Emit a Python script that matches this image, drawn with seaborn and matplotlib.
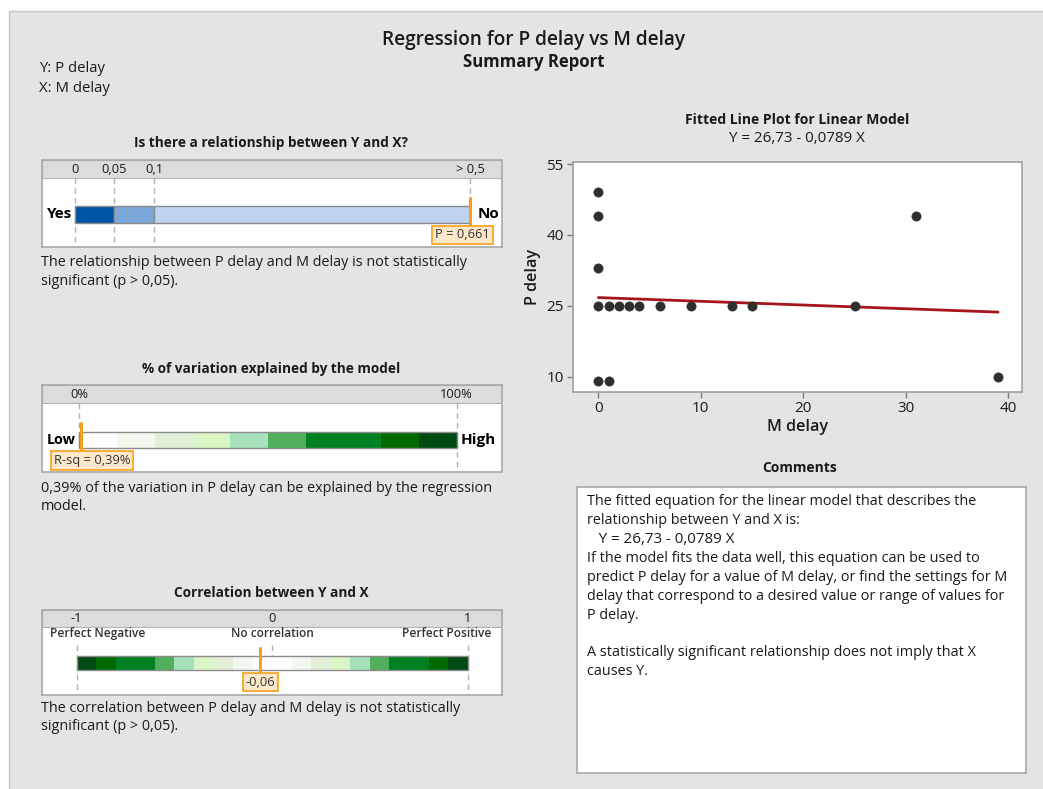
import numpy as np
import pandas as pd
import matplotlib
matplotlib.use("Agg")
import matplotlib.pyplot as plt
import seaborn as sns
from matplotlib.patches import Rectangle

# ---- data -------------------------------------------------------------
m_delay = [0, 0, 0, 0, 0, 1, 1, 2, 3, 4, 6, 9, 13, 15, 25, 31, 39]
p_delay = [49, 44, 33, 25, 9, 25, 9, 25, 25, 25, 25, 25, 25, 25, 25, 44, 10]

intercept = 26.73
slope = -0.0789
p_value = 0.661
r_sq_pct = 0.39
corr_r = -0.06

p_ticks = [0, 0.05, 0.1, 0.5]
p_tick_labels = ["0", "0,05", "0,1", "> 0,5"]
p_band_edges = [0, 0.05, 0.1, 0.5]
p_band_colors = ["#0054a6", "#7ba6d8", "#bed3ee"]

green_edges = [0, 10, 20, 30, 40, 50, 60, 80, 90, 100]
green_colors = ["#ffffff", "#f1f8ee", "#e1efd9", "#d9f5c4", "#a8e2bc",
                "#50ae5c", "#008224", "#006a00", "#004b13"]

equation = "Y = 26,73 - 0,0789 X"
comment_lines = [
    "The fitted equation for the linear model that describes the",
    "relationship between Y and X is:",
    "   " + equation,
    "If the model fits the data well, this equation can be used to",
    "predict P delay for a value of M delay, or find the settings for M",
    "delay that correspond to a desired value or range of values for",
    "P delay.",
    "",
    "A statistically significant relationship does not imply that X",
    "causes Y.",
]

# ---- style ------------------------------------------------------------
sns.set_theme(style="white")
plt.rcParams["font.family"] = ["Open Sans", "DejaVu Sans"]

W, H = 1043, 789
BG = "#e4e4e4"
TXT = "#1a1a1a"
ORANGE = "#f5a01a"
LABEL_FC = "#fde8cc"
FS_BODY = 10.35
FS_TITLE = 9.8
FS_EQ = 10.9

fig = plt.figure(figsize=(W / 100, H / 100), dpi=100)
fig.patch.set_facecolor("white")

bg = fig.add_axes([0, 0, 1, 1])
bg.set_xlim(0, W)
bg.set_ylim(H, 0)
bg.axis("off")
bg.set_zorder(0)
bg.add_patch(Rectangle((9, 11), W, H, facecolor=BG, edgecolor="#c4c4c4", lw=1))


def px_axes(x0, y0, x1, y1, z=2):
    ax = fig.add_axes([x0 / W, 1 - y1 / H, (x1 - x0) / W, (y1 - y0) / H])
    ax.set_zorder(z)
    return ax


# ---- headings -----------------------------------------------------------
bg.text(534, 39.5, "Regression for P delay vs M delay", ha="center", va="center",
        fontsize=13.7, fontweight="semibold", color=TXT)
bg.text(534, 61.5, "Summary Report", ha="center", va="center",
        fontsize=12.1, fontweight="bold", color=TXT)
bg.text(39, 68, "Y: P delay", ha="left", va="center", fontsize=10.7, color=TXT)
bg.text(39, 88, "X: M delay", ha="left", va="center", fontsize=10.7, color=TXT)


def gauge_box(px_box, header_bottom, xlim):
    x0, y0, x1, y1 = px_box
    ax = px_axes(x0, y0, x1, y1)
    ax.set_xlim(*xlim)
    ax.set_ylim(y1, y0)
    ax.set_facecolor("white")
    for s in ax.spines.values():
        s.set_color("#a8a8a8")
        s.set_linewidth(1.2)
    ax.set_xticks([])
    ax.set_yticks([])
    ax.add_patch(Rectangle((xlim[0], y0), xlim[1] - xlim[0], header_bottom - y0,
                           facecolor="#dcdcdc", edgecolor="#b4b4b4", lw=0.8, zorder=1))
    return ax


def value_label(ax, x, y, text, xlim, margin):
    t = ax.text(x, y, text, ha="center", va="center", fontsize=9.3, color="#333333",
                zorder=6,
                bbox=dict(boxstyle="square,pad=0.22", fc=LABEL_FC, ec=ORANGE, lw=1.2))
    fig.canvas.draw()
    r = fig.canvas.get_renderer()
    bb = t.get_bbox_patch().get_window_extent(r)
    inv = ax.transData.inverted()
    lx = inv.transform((bb.x0, 0))[0]
    rx = inv.transform((bb.x1, 0))[0]
    unit = (xlim[1] - xlim[0]) / (ax.get_window_extent(r).width)
    lo = xlim[0] + margin * unit
    hi = xlim[1] - margin * unit
    shift = 0.0
    if rx > hi:
        shift = hi - rx
    elif lx < lo:
        shift = lo - lx
    t.set_x(x + shift)


# ---- panel 1: p-value gauge ------------------------------------------------
bg.text(271, 143, "Is there a relationship between Y and X?", ha="center", va="center",
        fontsize=FS_TITLE, fontweight="bold", color=TXT)
xl1 = (-0.04215, 0.54013)
ax1 = gauge_box((41.7, 159.5, 501.7, 247), 178, xl1)
for t, lab in zip(p_ticks, p_tick_labels):
    ax1.text(t, 169, lab, ha="center", va="center", fontsize=9.3, color=TXT)
    ax1.plot([t, t], [178, 247], color="#b0b0b0", lw=1, ls=(0, (4, 3)), zorder=2)
for a, b, c in zip(p_band_edges[:-1], p_band_edges[1:], p_band_colors):
    ax1.barh(214.7, b - a, left=a, height=17.3, color=c, edgecolor="#8c8c8c",
             lw=1, zorder=3)
p_mark = min(p_value, p_ticks[-1])
ax1.plot([p_mark, p_mark], [198, 230], color=ORANGE, lw=2.2, zorder=5)
ax1.text(-0.004, 214, "Yes", ha="right", va="center", fontsize=11,
         fontweight="bold", color="black")
ax1.text(0.51, 214, "No", ha="left", va="center", fontsize=11,
         fontweight="bold", color="black")
value_label(ax1, p_mark, 235, "P = 0,661", xl1, 9)
bg.text(41, 263, "The relationship between P delay and M delay is not statistically",
        ha="left", va="center", fontsize=FS_BODY, color=TXT)
bg.text(41, 281, "significant (p > 0,05).", ha="left", va="center",
        fontsize=FS_BODY, color=TXT)

# ---- panel 2: R-sq gauge -------------------------------------------------
bg.text(271, 369, "% of variation explained by the model", ha="center", va="center",
        fontsize=FS_TITLE, fontweight="bold", color=TXT)
xl2 = (-9.96, 111.92)
ax2 = gauge_box((41.7, 385, 501.7, 472), 403.3, xl2)
for t, lab in zip([0, 100], ["0%", "100%"]):
    ax2.text(t, 394, lab, ha="center", va="center", fontsize=9.3, color=TXT)
    ax2.plot([t, t], [403.3, 472], color="#b0b0b0", lw=1, ls=(0, (4, 3)), zorder=2)
for a, b, c in zip(green_edges[:-1], green_edges[1:], green_colors):
    ax2.barh(440, b - a, left=a, height=16.6, color=c, lw=0, zorder=3)
ax2.barh(440, 100, left=0, height=16.6, fill=False, edgecolor="#8c8c8c", lw=1, zorder=4)
ax2.plot([r_sq_pct, r_sq_pct], [423.3, 453], color=ORANGE, lw=2.2, zorder=5)
ax2.text(-0.9, 440, "Low", ha="right", va="center", fontsize=10.4,
         fontweight="bold", color="black")
ax2.text(101, 440, "High", ha="left", va="center", fontsize=11,
         fontweight="bold", color="black")
value_label(ax2, r_sq_pct, 460.3, "R-sq = 0,39%", xl2, 9)
bg.text(41, 488, "0,39% of the variation in P delay can be explained by the regression",
        ha="left", va="center", fontsize=FS_BODY, color=TXT)
bg.text(41, 506, "model.", ha="left", va="center", fontsize=FS_BODY, color=TXT)

# ---- panel 3: correlation gauge ------------------------------------------
bg.text(271, 593, "Correlation between Y and X", ha="center", va="center",
        fontsize=FS_TITLE, fontweight="bold", color=TXT)
xl3 = (-1.179, 1.174)
ax3 = gauge_box((41.7, 610, 501.7, 695), 626.7, xl3)
for t, lab in zip([-1, 0, 1], ["-1", "0", "1"]):
    ax3.text(t, 618, lab, ha="center", va="center", fontsize=9.3, color=TXT)
    ax3.plot([t, t], [645, 695], color="#b0b0b0", lw=1, ls=(0, (4, 3)), zorder=2)
ax3.text(-1.1366, 633.5, "Perfect Negative", ha="left", va="center", fontsize=8.6,
         fontweight="semibold", color="#333333")
ax3.text(0, 633.5, "No correlation", ha="center", va="center", fontsize=8.6,
         fontweight="semibold", color="#333333")
ax3.text(1.1228, 633.5, "Perfect Positive", ha="right", va="center", fontsize=8.6,
         fontweight="semibold", color="#333333")
edges = np.array(green_edges) / 100.0
for a, b, c in zip(edges[:-1], edges[1:], green_colors):
    ax3.barh(663, b - a, left=a, height=14, color=c, lw=0, zorder=3)
    ax3.barh(663, b - a, left=-b, height=14, color=c, lw=0, zorder=3)
ax3.barh(663, 2, left=-1, height=14, fill=False, edgecolor="#8c8c8c", lw=1, zorder=4)
ax3.plot([corr_r, corr_r], [648.3, 676.7], color=ORANGE, lw=2.2, zorder=5)
value_label(ax3, corr_r, 682, "-0,06", xl3, 9)
bg.text(41, 709, "The correlation between P delay and M delay is not statistically",
        ha="left", va="center", fontsize=FS_BODY, color=TXT)
bg.text(41, 727, "significant (p > 0,05).", ha="left", va="center",
        fontsize=FS_BODY, color=TXT)

# ---- fitted line plot ----------------------------------------------------
bg.text(797, 120, "Fitted Line Plot for Linear Model", ha="center", va="center",
        fontsize=10, fontweight="bold", color=TXT)
bg.text(797, 138, equation, ha="center", va="center", fontsize=FS_EQ, color=TXT)
axp = px_axes(573.3, 161.7, 1021.7, 391.7)
axp.set_facecolor("white")
pts = pd.DataFrame({"M delay": m_delay, "P delay": p_delay})
fit_x = np.array([min(m_delay), max(m_delay)], dtype=float)
fit = pd.DataFrame({"M delay": fit_x, "P delay": intercept + slope * fit_x})
sns.lineplot(data=fit, x="M delay", y="P delay", ax=axp, color="#a8141b", lw=2, zorder=2)
sns.scatterplot(data=pts, x="M delay", y="P delay", ax=axp, color="#2e2e2e",
                s=44, edgecolor="#2e2e2e", linewidth=0.5, zorder=3)
axp.set_xlim(-2.44, 41.3)
axp.set_ylim(6.8, 55.5)
axp.set_xticks([0, 10, 20, 30, 40])
axp.set_yticks([10, 25, 40, 55])
axp.tick_params(axis="both", which="both", direction="out", length=4, width=1,
                color="#7a7a7a", labelsize=11, labelcolor=TXT, pad=3)
axp.tick_params(axis="x", bottom=True)
axp.tick_params(axis="y", left=True)
for s in axp.spines.values():
    s.set_color("#a0a0a0")
    s.set_linewidth(1.2)
axp.set_xlabel("M delay", fontsize=11.6, fontweight="semibold", color=TXT, labelpad=2)
axp.set_ylabel("P delay", fontsize=11.6, fontweight="semibold", color=TXT, labelpad=4)

# ---- comments ----------------------------------------------------------------
bg.text(800, 468, "Comments", ha="center", va="center", fontsize=10,
        fontweight="bold", color=TXT)
axc = px_axes(576.7, 486.7, 1025.7, 772.7)
axc.set_xlim(0, 449)
axc.set_ylim(286, 0)
axc.set_facecolor("white")
axc.set_xticks([])
axc.set_yticks([])
for s in axc.spines.values():
    s.set_color("#a8a8a8")
    s.set_linewidth(1.2)
for i, line in enumerate(comment_lines):
    axc.text(10.6, 15 + 18.9 * i, line, ha="left", va="center",
             fontsize=FS_EQ if line.strip() == equation else FS_BODY, color=TXT)

fig.savefig("out.png", dpi=100, facecolor="white")
